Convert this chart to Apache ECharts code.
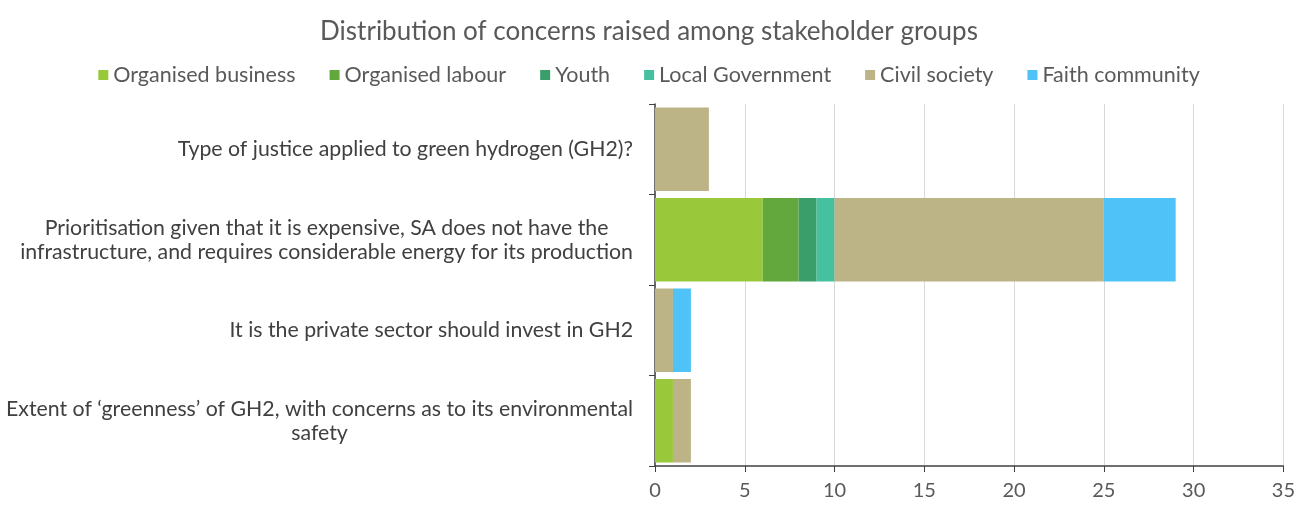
<!DOCTYPE html>
<html>
<head>
<meta charset="utf-8">
<script src="https://cdn.jsdelivr.net/npm/echarts@6/dist/echarts.min.js"></script>
<style>
  html, body { margin: 0; padding: 0; background: #fff; }
  #chart { width: 1298px; height: 506px; }
</style>
</head>
<body>
<div id="chart"></div>
<script>
// Concerns, listed top to bottom
const concerns = [
  "Type of justice applied to green hydrogen (GH2)?",
  "Prioritisation given that it is expensive, SA does not have the\ninfrastructure, and requires considerable energy for its production",
  "It is the private sector should invest in GH2",
  "Extent of \u2018greenness\u2019 of GH2, with concerns as to its environmental\nsafety"
];

// Number of concerns raised by each stakeholder group
const organisedBusiness = [0, 6, 0, 1];
const organisedLabour   = [0, 2, 0, 0];
const youth             = [0, 1, 0, 0];
const localGovernment   = [0, 1, 0, 0];
const civilSociety      = [3, 15, 1, 1];
const faithCommunity    = [0, 4, 1, 0];

const xTicks = [0, 5, 10, 15, 20, 25, 30, 35];

const groups = [
  { name: "Organised business", data: organisedBusiness, color: "#99c93a" },
  { name: "Organised labour",   data: organisedLabour,   color: "#62a83c" },
  { name: "Youth",              data: youth,             color: "#3a9e6a" },
  { name: "Local Government",   data: localGovernment,   color: "#45c1a0" },
  { name: "Civil society",      data: civilSociety,      color: "#bcb386" },
  { name: "Faith community",    data: faithCommunity,    color: "#4fc3f7" }
];

const FONT = "Lato, 'Open Sans', sans-serif";

const chart = echarts.init(document.getElementById("chart"), null, { renderer: "canvas" });

chart.setOption({
  animation: false,
  backgroundColor: "#ffffff",
  title: {
    text: "Distribution of concerns raised among stakeholder groups",
    left: "center",
    top: 14,
    textStyle: { fontFamily: FONT, fontSize: 26, fontWeight: "normal", color: "#595959" }
  },
  legend: {
    top: 59,
    left: "center",
    itemWidth: 10,
    itemHeight: 10,
    itemGap: 34,
    icon: "rect",
    textStyle: { fontFamily: FONT, fontSize: 21.5, color: "#595959" },
    data: groups.map(g => g.name)
  },
  grid: { left: 655, right: 13, top: 104, bottom: 40, containLabel: false },
  xAxis: {
    type: "value",
    min: xTicks[0],
    max: xTicks[xTicks.length - 1],
    interval: 5,
    axisLine: { show: true, lineStyle: { color: "#404040", width: 1.5 } },
    axisTick: { show: true, length: 6, lineStyle: { color: "#404040" } },
    axisLabel: { fontFamily: FONT, fontSize: 20, color: "#595959", margin: 15 },
    splitLine: { show: true, lineStyle: { color: "#d9d9d9", width: 1 } }
  },
  yAxis: {
    type: "category",
    inverse: true,
    data: concerns,
    axisLine: { show: true, lineStyle: { color: "#404040", width: 1.5 } },
    axisTick: { show: true, length: 6, lineStyle: { color: "#404040" } },
    axisLabel: {
      margin: 22,
      align: "right",
      formatter: v => v.split("\n").map(s => "{c|" + s + "}").join("\n"),
      rich: {
        c: { fontFamily: FONT, fontSize: 21.3, color: "#404040", lineHeight: 24, align: "center" }
      }
    }
  },
  series: groups.map(g => ({
    name: g.name,
    type: "bar",
    stack: "total",
    barCategoryGap: "8%",
    data: g.data,
    itemStyle: { color: g.color }
  }))
});
</script>
</body>
</html>
